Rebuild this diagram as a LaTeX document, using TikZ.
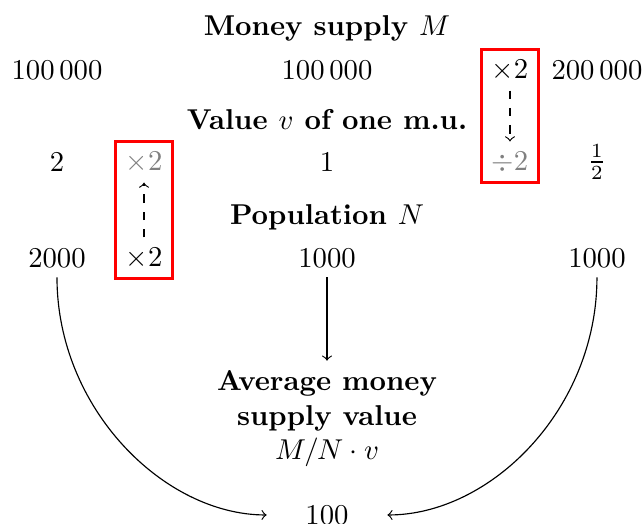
\documentclass[tikz,border=0pt]{standalone}
\usetikzlibrary{fit}

\begin{document}
\begin{tikzpicture}[
    heading/.style={font=\bfseries},
    changed/.style={gray},
    redbox/.style={draw=red, line width=1pt, inner sep=0pt},
  ]
    \useasboundingbox (0,0) rectangle (7.875,-6.417);
    % Money supply row
    \node[heading] (msupply) at (4.005,-0.349) {Money supply $M$};
    \node (m1) at (0.698,-0.857) {$100\,000$};
    \node (m2) at (4.005,-0.857) {$100\,000$};
    \node (mx) at (6.246,-0.857) {$\times 2$};
    \node (m3) at (7.311,-0.857) {$200\,000$};
    % Value row
    \node[heading] (value) at (4.005,-1.470) {Value $v$ of one m.u.};
    \node (v1) at (0.698,-1.984) {$2$};
    \node[changed] (vx) at (1.764,-1.984) {$\times 2$};
    \node (v2) at (4.005,-1.984) {$1$};
    \node[changed] (vd) at (6.246,-1.984) {$\div 2$};
    \node (v3) at (7.311,-1.984) {$\frac{1}{2}$};
    % Population row
    \node[heading] (pop) at (4.005,-2.664) {Population $N$};
    \node (n1) at (0.698,-3.160) {$2000$};
    \node (nx) at (1.764,-3.160) {$\times 2$};
    \node (n2) at (4.005,-3.160) {$1000$};
    \node (n3) at (7.311,-3.160) {$1000$};
    % Average
    \node[heading, align=center] (avg) at (4.005,-5.13)
      {Average money\\supply value\\\mdseries $M/N\cdot v$};
    \node (res) at (4.005,-6.307) {$100$};
    % red boxes
    \node[redbox, fit=(vx)(nx)] (boxleft) {};
    \node[redbox, fit=(mx)(vd)] (boxright) {};
    % arrows
    \draw[->, dashed] (nx) -- (vx);
    \draw[->, dashed] (mx) -- (vd);
    \draw[->] (n2) -- (avg);
    \draw[->, shorten >=10pt] (n1) to[out=-90, in=180] (res);
    \draw[->, shorten >=10pt] (n3) to[out=-90, in=0] (res);
  \end{tikzpicture}
\end{document}
